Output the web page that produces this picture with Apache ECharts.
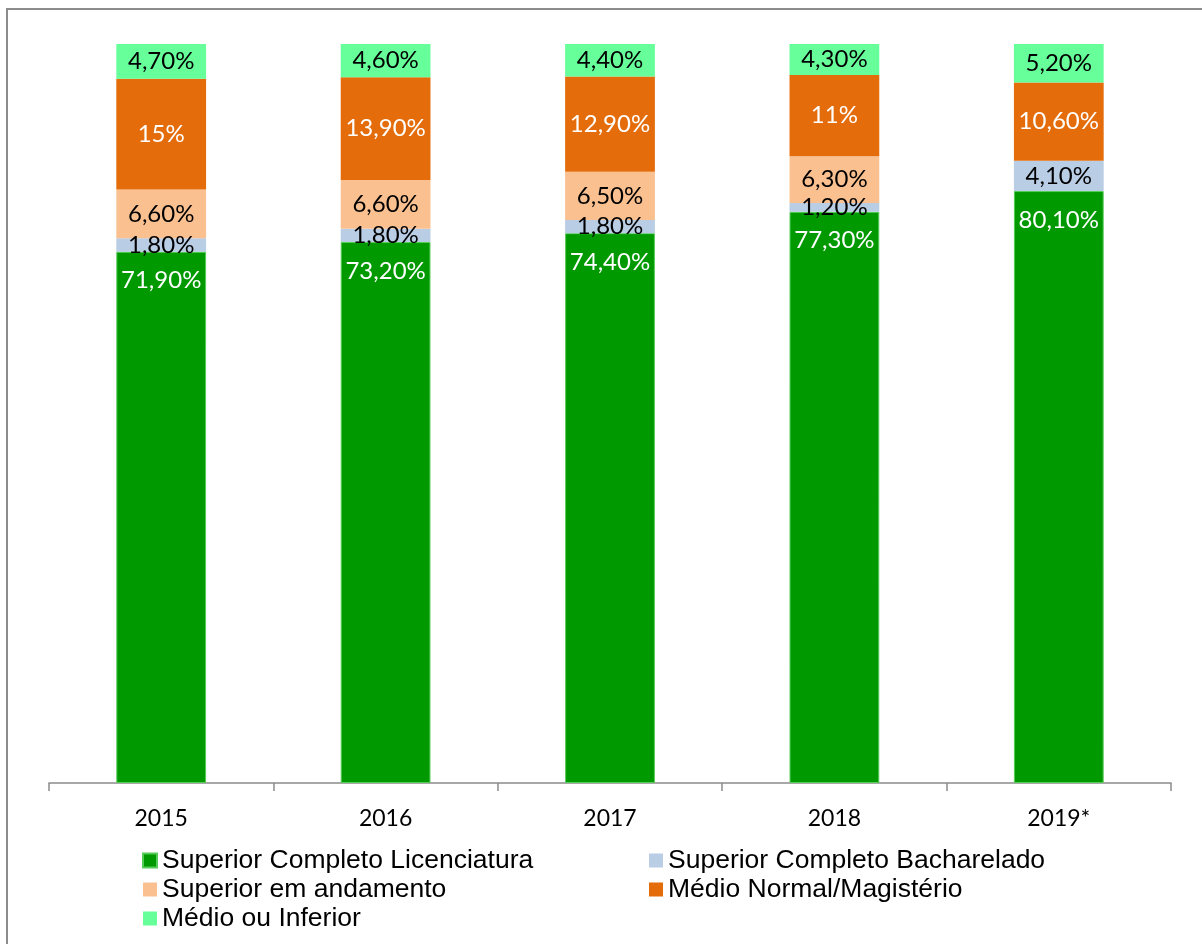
<!DOCTYPE html>
<html>
<head>
<meta charset="utf-8">
<script src="https://cdn.jsdelivr.net/npm/echarts@6/dist/echarts.min.js"></script>
<style>
html,body{margin:0;padding:0;background:#fff;}
#chart{width:1202px;height:944px;}
</style>
</head>
<body>
<div id="chart"></div>
<script>
const categories = ['2015', '2016', '2017', '2018', '2019*'];
const licenciatura = [71.9, 73.2, 74.4, 77.3, 80.1];
const bacharelado = [1.8, 1.8, 1.8, 1.2, 4.1];
const andamento = [6.6, 6.6, 6.5, 6.3, null];
const magisterio = [15, 13.9, 12.9, 11, 10.6];
const medioInferior = [4.7, 4.6, 4.4, 4.3, 5.2];

const names = ['Superior Completo Licenciatura', 'Superior Completo Bacharelado', 'Superior em andamento', 'Médio Normal/Magistério', 'Médio ou Inferior'];
const colors = ['#009900', '#b9cde5', '#fac090', '#e46c0a', '#66ff99'];
const labelColors = ['#ffffff', '#000000', '#000000', '#ffffff', '#000000'];
const dataSets = [licenciatura, bacharelado, andamento, magisterio, medioInferior];

function fmt(v) {
  if (v == null) return '';
  if (Number.isInteger(v)) return v + '%';
  return v.toFixed(2).replace('.', ',') + '%';
}

const series = dataSets.map((d, i) => ({
  name: names[i],
  type: 'bar',
  stack: 'total',
  barWidth: '40%',
  data: d,
  itemStyle: {
    color: colors[i],
    borderColor: i === 0 ? '#55cc55' : colors[i],
    borderWidth: (i === 0) ? 1 : 0
  },
  label: {
    show: true,
    position: i === 0 ? 'insideTop' : 'inside',
    distance: i === 0 ? 17 : 5,
    color: labelColors[i],
    fontFamily: 'Lato',
    fontSize: 24,
    formatter: p => fmt(p.value)
  }
}));

const legendText = { fontFamily: 'Liberation Sans', fontSize: 26.5, color: '#000', lineHeight: 24 };

const chart = echarts.init(document.getElementById('chart'));
chart.setOption({
  animation: false,
  backgroundColor: '#ffffff',
  graphic: [{
    type: 'rect',
    shape: { x: 7, y: 9, width: 1400, height: 1200 },
    style: { fill: 'none', stroke: '#8c8c8c', lineWidth: 2 },
    silent: true
  }],
  grid: { left: 49, right: 31, top: 44, bottom: 161 },
  xAxis: {
    type: 'category',
    data: categories,
    axisLine: { lineStyle: { color: '#8c8c8c', width: 1.5 } },
    axisTick: { show: true, length: 8, lineStyle: { color: '#8c8c8c', width: 1.5 } },
    axisLabel: { color: '#000', fontFamily: 'Lato', fontSize: 23, margin: 24 }
  },
  yAxis: {
    type: 'value',
    min: 0,
    max: 100,
    show: false,
    splitLine: { show: false }
  },
  legend: [
    {
      orient: 'vertical',
      left: 137,
      top: 842,
      icon: 'rect',
      itemWidth: 14,
      itemHeight: 14,
      itemGap: 2,
      data: [names[0], names[2], names[4]],
      textStyle: legendText
    },
    {
      orient: 'vertical',
      left: 644,
      top: 842,
      icon: 'rect',
      itemWidth: 14,
      itemHeight: 14,
      itemGap: 2,
      data: [names[1], names[3]],
      textStyle: legendText
    }
  ],
  series: series
});
</script>
</body>
</html>
